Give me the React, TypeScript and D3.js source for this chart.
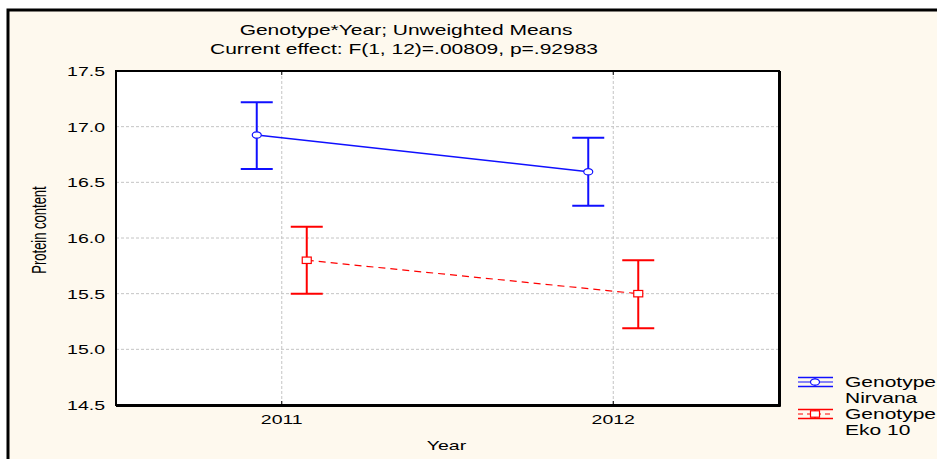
// @ts-nocheck
import * as d3 from "d3";

const years = ["2011", "2012"];
const yTicks = [14.5, 15.0, 15.5, 16.0, 16.5, 17.0, 17.5];

const nirvanaMean = [16.925, 16.595];
const nirvanaLow = [16.62, 16.29];
const nirvanaHigh = [17.22, 16.9];

const ekoMean = [15.8, 15.5];
const ekoLow = [15.5, 15.19];
const ekoHigh = [16.1, 15.8];

const W = 937;
const H = 459;
const SX = 1.5; // the original picture is stretched horizontally
const FONT = "'Liberation Sans', Arial, sans-serif";

const Txt = ({ x, y, size = 13, anchor = "start", fill = "#000", children }) => (
  <text
    transform={`translate(${x},${y}) scale(${SX},1)`}
    textAnchor={anchor}
    fontSize={size}
    fontFamily={FONT}
    fill={fill}
  >
    {children}
  </text>
);

const App = () => {
  const margin = { top: 71, right: 158, bottom: 54, left: 116 };
  const x0 = margin.left;
  const x1 = W - margin.right;
  const y0 = H - margin.bottom;
  const y1 = margin.top;

  const x = d3.scalePoint().domain(years).range([x0, x1]).padding(0.5);
  const y = d3.scaleLinear().domain([14.5, 17.5]).range([y0, y1]);

  const series = [
    { name: "Nirvana", mean: nirvanaMean, low: nirvanaLow, high: nirvanaHigh, color: "#1010ff", dx: -25, dash: null, marker: "circle" },
    { name: "Eko 10", mean: ekoMean, low: ekoLow, high: ekoHigh, color: "#ff0000", dx: 25, dash: "7,5", marker: "square" },
  ];

  const line = d3
    .line()
    .x((d) => d[0])
    .y((d) => d[1]);

  const marker = (s, cx, cy) =>
    s.marker === "circle" ? (
      <ellipse cx={cx} cy={cy} rx={4.5} ry={3.2} fill="#fff" stroke={s.color} strokeWidth={1.2} />
    ) : (
      <rect x={cx - 4.5} y={cy - 3.2} width={9} height={6.4} fill="#fff" stroke={s.color} strokeWidth={1.2} />
    );

  const legendY = [382, 414];

  return (
    <svg width={W} height={H} style={{ position: "absolute", left: 0, top: 0, background: "#fff" }}>
      {/* outer frame */}
      <rect x={8} y={10} width={W + 10} height={H + 10} fill="#fef9ee" stroke="#000" strokeWidth={3} />

      {/* plot area */}
      <rect x={x0} y={y1} width={x1 - x0} height={y0 - y1} fill="#fff" />

      {/* grid */}
      {yTicks.slice(1, -1).map((t) => (
        <line key={"gy" + t} x1={x0} x2={x1} y1={y(t)} y2={y(t)} stroke="#c4c4c4" strokeDasharray="3,2" />
      ))}
      {years.map((yr) => (
        <line key={"gx" + yr} x1={x(yr)} x2={x(yr)} y1={y1} y2={y0} stroke="#c4c4c4" strokeDasharray="3,2" />
      ))}

      {/* tick marks on x */}
      {years.map((yr) => (
        <g key={"tk" + yr}>
          <line x1={x(yr)} x2={x(yr)} y1={y0} y2={y0 - 4} stroke="#000" />
          <line x1={x(yr)} x2={x(yr)} y1={y1} y2={y1 + 4} stroke="#000" />
        </g>
      ))}

      {/* series */}
      {series.map((s) => {
        const pts = years.map((yr, i) => [x(yr) + s.dx, y(s.mean[i])]);
        return (
          <g key={s.name}>
            <path d={line(pts)} fill="none" stroke={s.color} strokeWidth={s.dash ? 1.2 : 1.5} strokeDasharray={s.dash} />
            {years.map((yr, i) => {
              const cx = x(yr) + s.dx;
              return (
                <g key={yr}>
                  <line x1={cx} x2={cx} y1={y(s.low[i])} y2={y(s.high[i])} stroke={s.color} strokeWidth={2} />
                  <line x1={cx - 16} x2={cx + 16} y1={y(s.high[i])} y2={y(s.high[i])} stroke={s.color} strokeWidth={2} />
                  <line x1={cx - 16} x2={cx + 16} y1={y(s.low[i])} y2={y(s.low[i])} stroke={s.color} strokeWidth={2} />
                  {marker(s, cx, y(s.mean[i]))}
                </g>
              );
            })}
          </g>
        );
      })}

      {/* plot border */}
      <rect x={x0} y={y1} width={x1 - x0} height={y0 - y1} fill="none" stroke="#000" strokeWidth={2} />
      <line x1={x1 + 0.5} x2={x1 + 0.5} y1={y1} y2={y0 + 1.5} stroke="#000" strokeWidth={3} />
      <line x1={x0} x2={x1 + 1.5} y1={y0 + 0.5} y2={y0 + 0.5} stroke="#000" strokeWidth={3} />

      {/* y tick labels */}
      {yTicks.map((t) => (
        <Txt key={"yl" + t} x={x0 - 11} y={y(t) + 5} anchor="end">
          {d3.format(".1f")(t)}
        </Txt>
      ))}

      {/* x tick labels */}
      {years.map((yr) => (
        <Txt key={"xl" + yr} x={x(yr)} y={y0 + 19} anchor="middle">
          {yr}
        </Txt>
      ))}

      {/* axis titles */}
      <Txt x={(x0 + x1) / 2 - 1} y={450} anchor="middle">Year</Txt>
      <text
        transform={`translate(46,230) scale(${SX},1) rotate(-90)`}
        textAnchor="middle"
        fontSize={13}
        fontFamily={FONT}
      >
        Protein content
      </text>

      {/* titles */}
      <Txt x={406} y={35} size={14} anchor="middle">Genotype*Year; Unweighted Means</Txt>
      <Txt x={404} y={54} size={14} anchor="middle">Current effect: F(1, 12)=.00809, p=.92983</Txt>

      {/* legend */}
      {series.map((s, i) => {
        const ly = legendY[i];
        const cx = 815;
        return (
          <g key={"lg" + s.name}>
            <line x1={798} x2={833} y1={ly - 4.5} y2={ly - 4.5} stroke={s.color} strokeWidth={1.5} />
            <line x1={798} x2={833} y1={ly + 4.5} y2={ly + 4.5} stroke={s.color} strokeWidth={1.5} />
            <line x1={798} x2={833} y1={ly} y2={ly} stroke={s.color} strokeWidth={1.2} strokeDasharray={s.dash ? "5,4" : null} />
            <line x1={cx} x2={cx} y1={ly - 4.5} y2={ly + 4.5} stroke={s.color} strokeWidth={1.5} />
            {marker(s, cx, ly)}
            <Txt x={845} y={ly + 5} size={14}>Genotype</Txt>
            <Txt x={845} y={ly + 21} size={14}>{s.name}</Txt>
          </g>
        );
      })}
    </svg>
  );
};

export default App;
